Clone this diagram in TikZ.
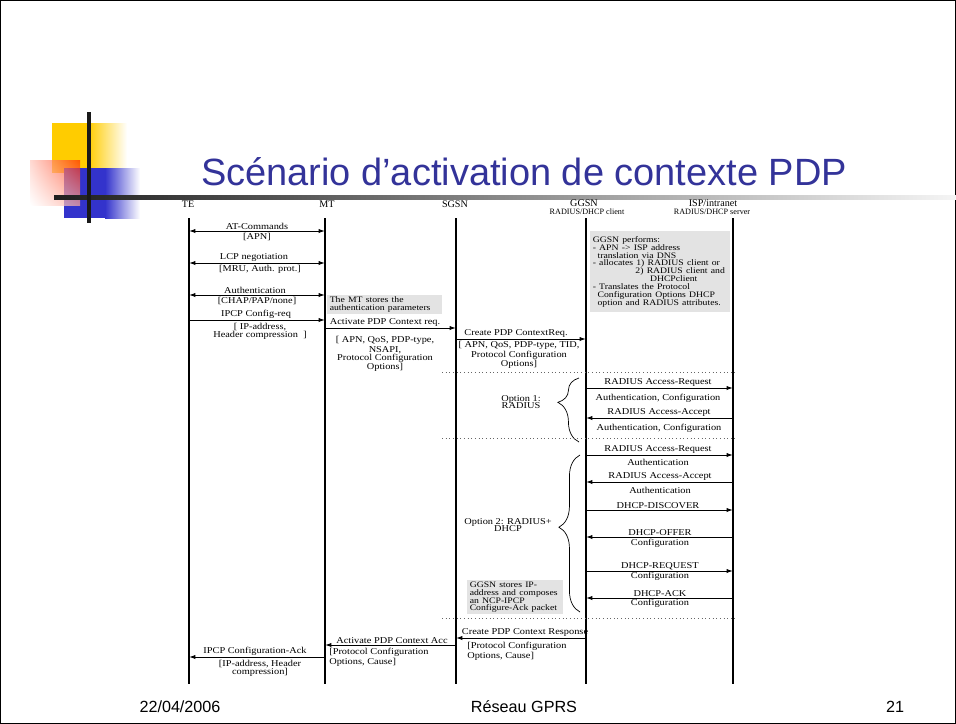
\documentclass[tikz,border=0pt]{standalone}
\usepackage{fontspec}
\setmainfont{Liberation Serif}
\setsansfont{Liberation Sans}
\usetikzlibrary{arrows.meta, decorations.pathreplacing, shadings}

\definecolor{titleblue}{RGB}{51,51,153}
\definecolor{decoyellow}{RGB}{255,204,0}
\definecolor{decoblue}{RGB}{51,51,204}
\definecolor{decored}{RGB}{255,40,0}

\begin{document}
\begin{tikzpicture}[
  x=0.025cm, y=-0.025cm,
  lifeline/.style={line width=1.5pt},
  msg/.style={-{Latex[length=4.5pt,width=3pt]}, line width=0.7pt},
  bimsg/.style={{Latex[length=4.5pt,width=3pt]}-{Latex[length=4.5pt,width=3pt]}, line width=0.7pt},
  lbl/.style={font=\fontsize{6.4}{5.6}\selectfont, xscale=1.15, align=center,
    inner xsep=0pt, inner ysep=0.6pt, anchor=south},
  params/.style={lbl, anchor=north},
  note/.style={fill=black!11, font=\fontsize{6}{5.6}\selectfont, xscale=1.15, align=left,
    inner xsep=1.5pt, inner ysep=1pt, anchor=north west},
  head/.style={font=\fontsize{7.2}{7}\selectfont, inner sep=0pt},
  headsub/.style={font=\fontsize{5.8}{6}\selectfont, inner sep=0pt},
  cutline/.style={dotted, draw=black!60, line width=0.6pt},
  optbrace/.style={decorate, decoration={brace, amplitude=15pt}, line width=0.5pt},
  foot/.style={font=\sffamily\fontsize{11.5}{12}\selectfont, inner sep=0pt}
]
\useasboundingbox (0,0) rectangle (956,724);
\draw[line width=0.8pt] (0.5,0.5) rectangle (955.5,723.5);

% --- slide decoration ---
\fill[decoyellow] (52,123) rectangle (88,173);
\shade[left color=decoyellow, right color=white] (88,123) rectangle (127,173);
\fill[decoblue] (64,168) rectangle (105,218);
\shade[left color=decoblue, right color=white] (105,168) rectangle (140,218);
\shade[upper right=decored, lower left=white, upper left=decored!25, lower right=decored!40,
  opacity=0.7] (30,160) rectangle (80,205);
\shade[left color=black!88, right color=black!4] (54,195) rectangle (956,199);
\fill[black!90] (87,112) rectangle (91,223);

\node[font=\sffamily\fontsize{27}{29}\selectfont, text=titleblue, anchor=base] (title) at (524,185)
  {Scénario d’activation de contexte PDP};

% --- entities and lifelines ---
\node[head] (h-te) at (188,204) {TE};
\node[head] (h-mt) at (327,204) {MT};
\node[head] (h-sgsn) at (455,204) {SGSN};
\node[head] (h-ggsn) at (584,203) {GGSN};
\node[headsub] (h-ggsn2) at (587,212) {RADIUS/DHCP client};
\node[head] (h-isp) at (713,203) {ISP/intranet};
\node[headsub] (h-isp2) at (712,212) {RADIUS/DHCP server};

\foreach \who/\x in {te/189, mt/325, sgsn/456, ggsn/586, isp/733} {
  \coordinate (\who-t) at (\x,218);
  \coordinate (\who-b) at (\x,684);
  \draw[lifeline] (\who-t) -- (\who-b);
}

% --- TE <-> MT ---
\node[lbl] (m-at) at (257,231) {AT-Commands};
\draw[bimsg] (te-t |- m-at.south) -- (mt-t |- m-at.south);
\node[params] (p-at) at (257,232.5) {[APN]};

\node[lbl] (m-lcp) at (254,263) {LCP negotiation};
\draw[bimsg] (te-t |- m-lcp.south) -- (mt-t |- m-lcp.south);
\node[params] (p-lcp) at (260,264) {[MRU, Auth. prot.]};

\node[lbl] (m-auth) at (255,295) {Authentication};
\draw[bimsg] (te-t |- m-auth.south) -- (mt-t |- m-auth.south);
\node[params] (p-auth) at (257,296) {[CHAP/PAP/none]};

\node[lbl] (m-ipcp) at (256,320) {IPCP Config-req};
\draw[msg] (te-t |- m-ipcp.south) -- (mt-t |- m-ipcp.south);
\node[params] (p-ipcp) at (260,322) {[ IP-address,\\Header compression~~]};

\node[note, text width=2.394cm, minimum height=0.45cm] (n-mt) at (327,295)
  {The MT stores the\\authentication parameters};

% --- MT -> SGSN -> GGSN ---
\node[lbl] (m-act) at (385,328) {Activate PDP Context req.};
\draw[msg] (mt-t |- m-act.south) -- (sgsn-t |- m-act.south);
\node[params] (p-act) at (385,335.5) {[ APN, QoS, PDP-type,\\NSAPI,\\Protocol Configuration\\Options]};

\node[lbl] (m-cre) at (516,339) {Create PDP ContextReq.};
\draw[msg] (sgsn-t |- m-cre.south) -- (ggsn-t |- m-cre.south);
\node[params] (p-cre) at (519,340) {[ APN, QoS, PDP-type, TID,\\Protocol Configuration\\Options]};

\node[note, text width=2.93cm, minimum height=2.025cm] (n-ggsn) at (590,231)
  {GGSN performs:\\
   - APN -> ISP address\\
   \hspace*{0.5em}translation via DNS\\
   - allocates 1) RADIUS client or\\
   \hspace*{4.4em}2) RADIUS client and\\
   \hspace*{5.9em}DHCPclient\\
   - Translates the Protocol\\
   \hspace*{0.5em}Configuration Options DHCP\\
   \hspace*{0.5em}option and RADIUS attributes.};

\coordinate (c1) at (442,372);
\draw[cutline] (c1) -- ([xshift=2]isp-t |- c1);

% --- option 1: RADIUS ---
\node[lbl, anchor=center] (o1) at (521,402) {Option 1:\\RADIUS};
\coordinate (b1-top) at (579,378);
\coordinate (b1-bot) at (579,442);
\draw[optbrace, decoration={aspect=0.62}] (b1-bot) -- (b1-top);

\node[lbl] (m-rq1) at (658,388) {RADIUS Access-Request};
\draw[msg] (ggsn-t |- m-rq1.south) -- (isp-t |- m-rq1.south);
\node[params] (p-rq1) at (658,393.5) {Authentication, Configuration};

\node[lbl] (m-ac1) at (659,418) {RADIUS Access-Accept};
\draw[msg] (isp-t |- m-ac1.south) -- (ggsn-t |- m-ac1.south);
\node[params] (p-ac1) at (659,423.5) {Authentication, Configuration};

\coordinate (c2) at (442,438);
\draw[cutline] (c2) -- ([xshift=2]isp-t |- c2);

% --- option 2: RADIUS + DHCP ---
\node[lbl, anchor=center] (o2) at (508,525) {Option 2: RADIUS+\\DHCP};
\coordinate (b2-top) at (580,455);
\coordinate (b2-bot) at (580,612);
\draw[optbrace, decoration={aspect=0.54}] (b2-bot) -- (b2-top);

\node[lbl] (m-rq2) at (658,455) {RADIUS Access-Request};
\draw[msg] (ggsn-t |- m-rq2.south) -- (isp-t |- m-rq2.south);
\node[params] (p-rq2) at (658,458.5) {Authentication};

\node[lbl] (m-ac2) at (660,482) {RADIUS Access-Accept};
\draw[msg] (isp-t |- m-ac2.south) -- (ggsn-t |- m-ac2.south);
\node[params] (p-ac2) at (660,486.5) {Authentication};

\node[lbl] (m-dis) at (658,510) {DHCP-DISCOVER};
\draw[msg] (ggsn-t |- m-dis.south) -- (isp-t |- m-dis.south);

\node[lbl] (m-off) at (660,537) {DHCP-OFFER};
\draw[msg] (isp-t |- m-off.south) -- (ggsn-t |- m-off.south);
\node[params] (p-off) at (660,538.5) {Configuration};

\node[lbl] (m-req) at (660,571) {DHCP-REQUEST};
\draw[msg] (ggsn-t |- m-req.south) -- (isp-t |- m-req.south);
\node[params] (p-req) at (660,571.5) {Configuration};

\node[lbl] (m-ack) at (660,598) {DHCP-ACK};
\draw[msg] (isp-t |- m-ack.south) -- (ggsn-t |- m-ack.south);
\node[params] (p-ack) at (660,598.5) {Configuration};

\node[note, text width=1.981cm, minimum height=0.8cm] (n-store) at (467,580)
  {GGSN stores IP-\\address and composes\\an NCP-IPCP\\Configure-Ack packet};

\coordinate (c3) at (442,618);
\draw[cutline] (c3) -- ([xshift=2]isp-t |- c3);

% --- responses back to the TE ---
\node[lbl] (m-crr) at (525,638) {Create PDP Context Response};
\draw[msg] (ggsn-t |- m-crr.south) -- (sgsn-t |- m-crr.south);
\node[params, anchor=north west, align=left] (p-crr) at (467,641.5) {[Protocol Configuration\\Options, Cause]};

\node[lbl] (m-aca) at (392,645) {Activate PDP Context Acc};
\draw[msg] (sgsn-t |- m-aca.south) -- (mt-t |- m-aca.south);
\node[params, anchor=north west, align=left] (p-aca) at (329,647.5) {[Protocol Configuration\\Options, Cause]};

\node[lbl] (m-ica) at (255,657) {IPCP Configuration-Ack};
\draw[msg] (mt-t |- m-ica.south) -- (te-t |- m-ica.south);
\node[params] (p-ica) at (260,659) {[IP-address, Header\\compression]};

% --- footer ---
\node[foot] (f-date) at (180,707) {22/04/2006};
\node[foot] (f-title) at (524,707) {Réseau GPRS};
\node[foot] (f-page) at (895,707) {21};

\end{tikzpicture}
\end{document}
